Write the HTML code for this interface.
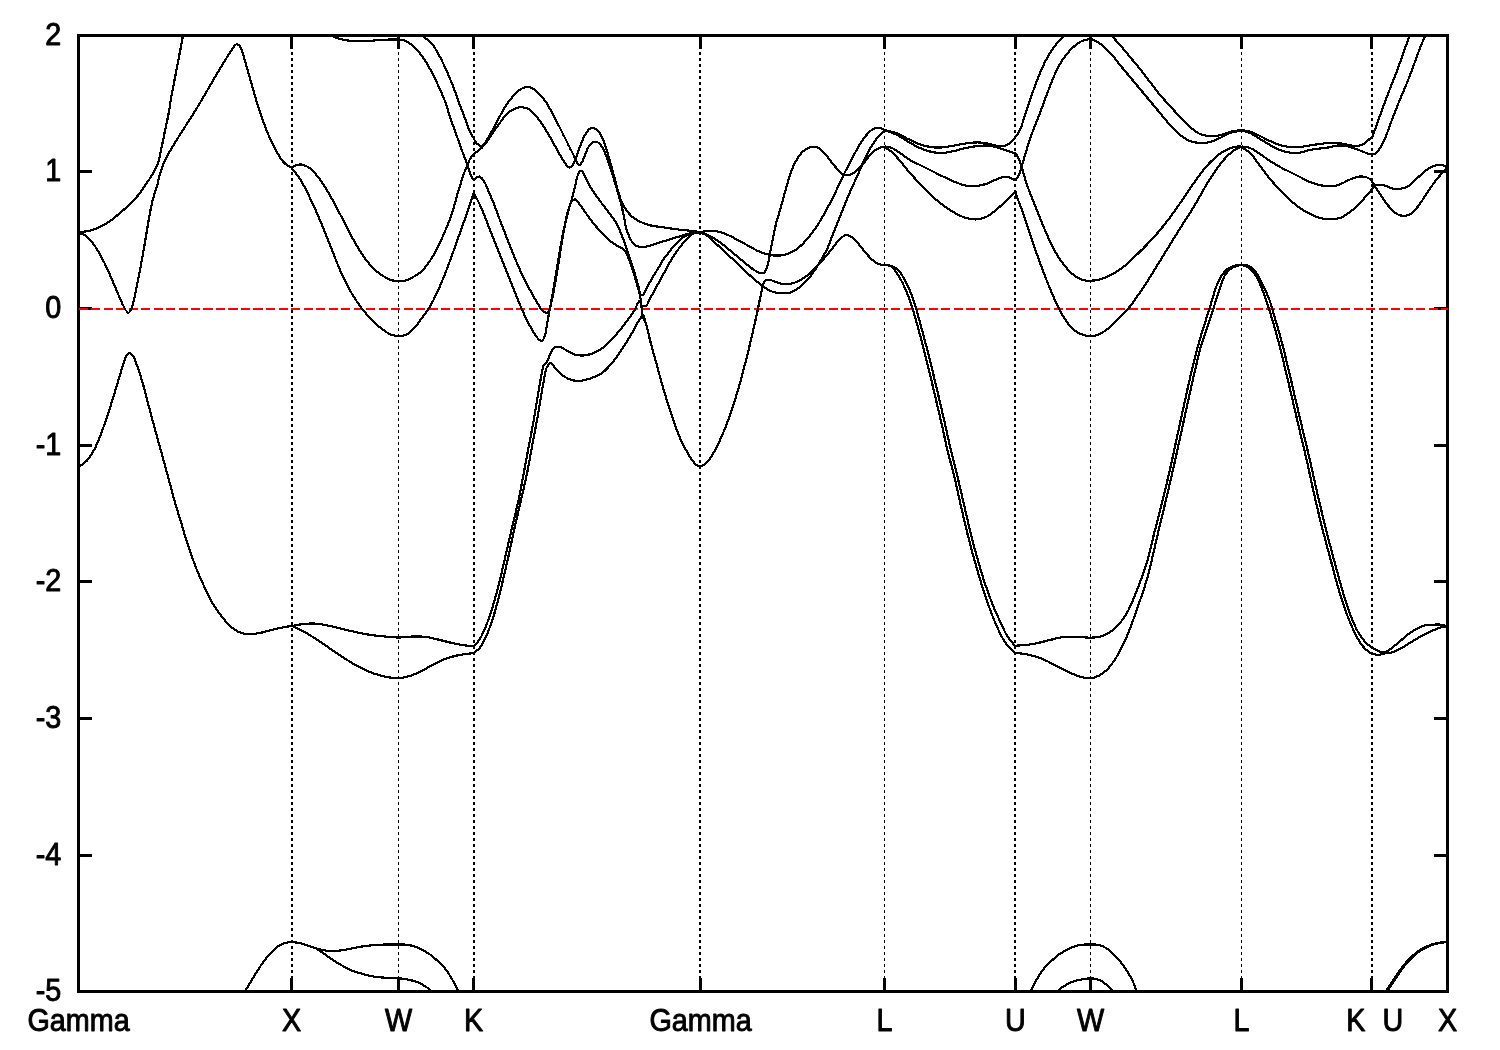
<!DOCTYPE html>
<html><head><meta charset="utf-8"><title>Band structure</title>
<style>html,body{margin:0;padding:0;background:#fff;width:1500px;height:1050px;overflow:hidden}svg{display:block}</style></head>
<body>
<svg width="1500" height="1050" viewBox="0 0 1500 1050">
<rect width="1500" height="1050" fill="#fff"/>
<g stroke="#000" fill="none" shape-rendering="crispEdges">
<line x1="292" y1="52" x2="292" y2="978" stroke-width="2" stroke-dasharray="3 3"/>
<line x1="474" y1="52" x2="474" y2="978" stroke-width="2" stroke-dasharray="3 3"/>
<line x1="700" y1="52" x2="700" y2="978" stroke-width="2" stroke-dasharray="3 3"/>
<line x1="1015" y1="52" x2="1015" y2="978" stroke-width="2" stroke-dasharray="3 3"/>
<line x1="1372" y1="52" x2="1372" y2="978" stroke-width="2" stroke-dasharray="3 3"/>
<line x1="398.5" y1="52" x2="398.5" y2="978" stroke-width="1" stroke-dasharray="3 3"/>
<line x1="884.5" y1="52" x2="884.5" y2="978" stroke-width="1" stroke-dasharray="3 3"/>
<line x1="1090.5" y1="52" x2="1090.5" y2="978" stroke-width="1" stroke-dasharray="3 3"/>
<line x1="1241.5" y1="52" x2="1241.5" y2="978" stroke-width="1" stroke-dasharray="3 3"/>
</g>
<g fill="#000" shape-rendering="crispEdges">
<rect x="80" y="170" width="12" height="3"/>
<rect x="1434" y="170" width="12" height="3"/>
<rect x="80" y="307" width="12" height="3"/>
<rect x="1434" y="307" width="12" height="3"/>
<rect x="80" y="444" width="12" height="3"/>
<rect x="1434" y="444" width="12" height="3"/>
<rect x="80" y="580" width="12" height="3"/>
<rect x="1434" y="580" width="12" height="3"/>
<rect x="80" y="717" width="12" height="3"/>
<rect x="1434" y="717" width="12" height="3"/>
<rect x="80" y="854" width="12" height="3"/>
<rect x="1434" y="854" width="12" height="3"/>
<rect x="290" y="37" width="3" height="12"/>
<rect x="290" y="978" width="3" height="12"/>
<rect x="397" y="37" width="3" height="12"/>
<rect x="397" y="978" width="3" height="12"/>
<rect x="472" y="37" width="3" height="12"/>
<rect x="472" y="978" width="3" height="12"/>
<rect x="699" y="37" width="3" height="12"/>
<rect x="699" y="978" width="3" height="12"/>
<rect x="883" y="37" width="3" height="12"/>
<rect x="883" y="978" width="3" height="12"/>
<rect x="1014" y="37" width="3" height="12"/>
<rect x="1014" y="978" width="3" height="12"/>
<rect x="1089" y="37" width="3" height="12"/>
<rect x="1089" y="978" width="3" height="12"/>
<rect x="1240" y="37" width="3" height="12"/>
<rect x="1240" y="978" width="3" height="12"/>
<rect x="1370" y="37" width="3" height="12"/>
<rect x="1370" y="978" width="3" height="12"/>
<rect x="77" y="34" width="1372" height="3"/><rect x="77" y="990" width="1372" height="3"/><rect x="77" y="34" width="3" height="959"/><rect x="1446" y="34" width="3" height="959"/>
</g>
<line x1="78.5" y1="309" x2="1447.5" y2="309" stroke="#f00" stroke-width="2" stroke-dasharray="9.4 3.1" shape-rendering="crispEdges"/>
<clipPath id="cp"><rect x="77" y="34" width="1372" height="959"/></clipPath>
<g clip-path="url(#cp)" stroke="#000" stroke-width="2.2" fill="none" stroke-linejoin="round" shape-rendering="crispEdges">
<path d="M78.5 232.4C82.3 231.8 86.3 231.6 90.0 230.6C93.4 229.7 96.8 228.5 100.0 227.0C103.5 225.4 106.8 223.2 110.0 221.0C113.5 218.6 116.7 215.8 120.0 213.0C123.4 210.1 126.8 207.2 130.0 204.0C133.5 200.5 137.0 196.9 140.0 193.0C141.8 190.6 143.4 188.0 145.1 185.5C146.3 183.7 147.6 181.9 148.8 180.1C150.1 178.2 151.3 176.3 152.5 174.3C153.6 172.4 154.7 170.4 155.7 168.4C156.5 166.7 157.3 164.9 157.9 163.1C158.5 161.3 159.0 159.5 159.5 157.7C160.0 155.6 160.4 153.4 160.8 151.3C161.2 149.2 161.7 147.0 162.1 144.9C162.6 142.8 163.1 140.6 163.5 138.5C164.1 135.7 164.5 132.8 165.1 130.0C165.8 126.7 166.6 123.3 167.3 120.0C168.0 116.7 168.7 113.4 169.3 110.0C169.9 106.7 170.2 103.3 170.7 100.0C171.4 96.0 172.2 92.0 173.0 88.0C173.8 83.7 174.7 79.3 175.5 75.0C176.3 70.7 177.2 66.3 178.0 62.0C178.8 57.7 179.7 53.3 180.5 49.0C181.3 44.5 182.2 40.0 183.0 35.5"/>
<path d="M78.5 232.6C81.0 233.7 83.8 234.5 86.0 236.0C88.3 237.6 90.2 239.8 92.0 242.0C94.3 244.7 96.1 247.9 98.0 251.0C100.2 254.6 102.1 258.3 104.0 262.0C106.2 266.3 108.1 270.6 110.0 275.0C112.1 279.6 114.0 284.3 116.0 289.0C118.0 293.7 119.8 298.4 122.0 303.0C123.3 305.7 124.7 308.3 126.0 311.0M126.0 311.0C126.7 311.6 127.2 312.7 128.0 312.8C128.6 312.9 129.3 312.3 130.0 312.0M130.0 312.0C130.7 310.3 131.4 308.7 132.0 307.0C134.0 301.5 134.8 295.7 136.0 290.0C137.5 283.4 138.7 276.7 140.0 270.0C141.4 262.7 142.7 255.3 144.0 248.0C145.4 240.0 146.6 232.0 148.0 224.0C149.3 217.0 150.3 209.9 152.0 203.0C152.9 199.3 153.8 195.6 155.0 192.0C155.7 189.8 156.7 187.7 157.3 185.5C158.0 183.0 158.3 180.5 158.9 178.0C159.5 175.5 160.3 173.0 161.1 170.5C161.9 168.0 162.7 165.5 163.7 163.1C164.6 160.9 165.8 158.8 166.9 156.7C168.1 154.3 169.4 152.0 170.7 149.7C172.0 147.4 173.5 145.1 174.9 142.8C176.3 140.5 177.8 138.2 179.2 135.9C180.4 133.9 181.7 132.0 182.9 130.0C185.2 126.4 187.7 122.8 190.0 119.2C194.0 112.9 197.9 106.4 201.7 100.0C205.6 93.4 209.4 86.6 213.3 80.0C216.6 74.4 219.9 68.8 223.3 63.3C225.5 59.7 227.7 56.0 230.0 52.5C231.4 50.4 232.4 48.0 234.2 46.3C235.0 45.5 235.8 44.3 236.7 44.2C237.5 44.1 238.5 44.8 239.2 45.3C240.6 46.3 241.0 48.4 241.7 50.0C243.3 53.4 243.9 57.2 245.0 60.8C246.7 66.6 248.3 72.5 250.0 78.3C252.2 86.1 254.3 94.0 256.7 101.7C258.8 108.4 260.9 115.1 263.3 121.7C265.4 127.3 267.5 132.9 270.0 138.3C272.1 142.8 274.3 147.3 276.7 151.7C278.3 154.5 279.7 157.5 281.7 160.0C283.2 161.8 284.8 163.6 286.7 165.0C288.2 166.1 290.0 166.7 291.6 167.6"/>
<path d="M78.5 466.4C79.7 465.9 80.9 465.4 82.0 464.8C83.8 463.7 85.3 462.2 86.8 460.7C89.9 457.5 92.1 453.4 94.3 449.5C96.9 444.8 98.8 439.6 100.8 434.5C103.2 428.4 105.2 422.1 107.3 415.9C109.6 409.1 111.8 402.2 113.9 395.3C115.8 389.1 117.6 382.9 119.5 376.7C121.0 371.7 122.2 366.6 124.1 361.7C125.0 359.5 125.4 357.0 126.9 355.2C127.7 354.3 128.8 352.8 129.7 352.8C130.6 352.8 131.7 354.3 132.5 355.2C134.5 357.4 135.1 360.8 136.3 363.6C138.5 369.1 140.2 374.8 141.9 380.4C144.4 388.4 146.2 396.6 148.4 404.7C150.9 414.0 153.4 423.4 155.9 432.7C158.4 442.0 161.1 451.2 163.6 460.5C165.5 467.4 167.3 474.2 169.2 481.1C171.1 487.9 172.8 494.8 174.8 501.6C176.6 507.9 178.5 514.1 180.4 520.3C182.3 526.5 184.0 532.7 186.0 538.9C187.8 544.5 189.6 550.1 191.6 555.7C193.4 560.7 195.2 565.8 197.2 570.7C199.5 576.4 202.1 582.0 204.7 587.5C207.1 592.5 209.3 597.6 212.1 602.4C214.4 606.3 216.9 610.0 219.6 613.6C222.0 616.8 224.3 620.0 227.1 622.9C229.4 625.3 231.8 627.7 234.5 629.5C236.8 631.0 239.4 632.4 242.0 633.2C244.4 633.9 247.0 634.0 249.5 634.1C253.2 634.2 257.0 633.5 260.7 632.8C265.0 632.0 269.1 630.5 273.3 629.5C277.7 628.5 282.2 627.4 286.7 626.7C288.5 626.4 290.2 626.2 292.0 626.0"/>
<path d="M245.6 990.2C247.9 986.4 250.2 982.7 252.5 978.9C255.4 974.2 258.1 969.5 261.2 965.0C263.9 961.1 266.7 957.2 269.9 953.8C272.5 951.0 275.2 948.0 278.5 946.0C280.7 944.7 283.1 943.6 285.5 942.9C287.4 942.4 289.5 942.3 291.5 942.0"/>
<path d="M291.6 167.6C293.1 166.8 294.4 165.7 296.0 165.2C297.9 164.6 300.1 164.3 302.0 164.6C304.1 164.9 306.2 166.0 308.0 167.0C311.1 168.8 313.6 171.8 316.0 174.5C319.0 177.9 321.5 181.7 324.0 185.5C326.9 189.9 329.4 194.4 332.0 199.0C334.8 203.9 337.4 209.0 340.0 214.0C343.4 220.5 346.5 227.1 350.0 233.5C353.2 239.4 356.4 245.3 360.0 251.0C361.9 254.0 363.8 257.2 366.0 260.0C368.2 262.8 370.7 265.5 373.3 268.0C375.4 270.1 377.6 272.2 380.0 274.0C382.1 275.5 384.4 276.8 386.7 278.0C388.4 278.9 390.2 279.8 392.0 280.3C394.1 280.9 396.4 280.9 398.6 281.0C400.6 281.1 402.7 281.1 404.7 280.7C407.5 280.1 410.2 278.7 412.7 277.3C415.5 275.8 418.3 274.1 420.7 272.0C423.8 269.4 426.3 266.0 428.7 262.7C431.8 258.5 434.3 253.9 436.7 249.3C439.7 243.7 442.2 237.8 444.7 232.0C447.7 224.9 450.6 217.8 452.9 210.5C454.5 205.4 455.7 200.1 457.2 195.0C458.6 190.3 460.0 185.6 461.5 181.0C462.8 177.1 463.9 173.2 465.5 169.5C466.1 168.0 466.8 166.5 467.5 165.0C468.4 163.0 469.0 160.9 470.0 159.0C471.1 157.0 472.7 155.3 474.0 153.5M474.0 153.5C475.3 152.7 476.7 151.9 478.0 151.0C479.4 150.0 480.7 148.7 482.0 147.5C483.4 146.1 484.8 144.6 486.0 143.0C487.5 141.1 488.7 139.0 490.0 137.0C491.3 135.0 492.6 133.0 494.0 131.0C495.3 129.1 496.7 127.3 498.0 125.5C499.3 123.7 500.6 121.8 502.0 120.0C503.3 118.3 504.5 116.5 506.0 115.0C507.2 113.7 508.6 112.5 510.0 111.5C511.3 110.6 512.6 109.7 514.0 109.0C515.3 108.4 516.6 107.8 518.0 107.5C519.3 107.2 520.7 107.2 522.0 107.3C523.3 107.4 524.7 107.6 526.0 108.0C527.4 108.5 528.8 109.2 530.0 110.0C531.9 111.3 533.4 113.3 535.0 115.0C536.8 116.9 538.4 118.9 540.0 121.0C541.8 123.4 543.4 126.0 545.0 128.5C546.7 131.3 548.4 134.1 550.0 137.0C551.7 140.0 553.3 143.0 555.0 146.0C556.7 149.0 558.3 152.0 560.0 155.0C561.6 157.7 563.2 160.4 565.0 163.0C566.2 164.7 567.5 166.3 568.7 168.0M568.7 168.0C569.8 167.3 571.1 166.8 572.0 166.0C573.6 164.5 574.1 162.0 575.0 160.0C576.2 157.4 577.0 154.7 578.0 152.0C579.3 148.4 580.5 144.8 582.0 141.3C583.2 138.6 584.3 135.7 586.0 133.3C587.2 131.7 588.2 129.5 590.0 128.7C591.0 128.2 592.2 127.9 593.3 128.0C595.0 128.1 596.7 129.5 598.0 130.7C599.9 132.4 600.8 135.0 602.0 137.3C603.7 140.7 604.8 144.4 606.0 148.0C607.5 152.4 608.7 156.9 610.0 161.3C611.4 166.2 612.7 171.1 614.0 176.0C615.3 180.9 616.5 185.8 618.0 190.7C619.2 194.7 620.1 198.9 622.0 202.7C623.1 205.0 624.5 207.2 626.0 209.3C627.6 211.6 629.2 214.1 631.3 216.0C633.6 218.2 636.5 219.8 639.3 221.3C642.7 223.1 646.3 224.3 650.0 225.3C654.3 226.5 658.9 226.6 663.3 227.3C667.8 228.0 672.2 228.7 676.7 229.3C681.1 229.9 685.6 230.2 690.0 230.7C693.3 231.1 696.7 231.6 700.0 232.0"/>
<path d="M291.6 168.4C293.7 170.9 296.1 173.3 298.0 176.0C300.3 179.1 302.1 182.6 304.0 186.0C306.2 189.9 308.1 194.0 310.0 198.0C312.1 202.3 314.1 206.6 316.0 211.0C318.8 217.3 321.4 223.6 324.0 230.0C326.7 236.6 329.3 243.3 332.0 250.0C334.7 256.7 337.1 263.4 340.0 270.0C342.5 275.7 345.1 281.3 348.0 286.8C350.7 291.8 353.6 296.6 356.7 301.3C358.4 303.8 360.1 306.3 362.0 308.7C364.5 311.9 367.2 315.0 370.0 317.9C373.4 321.4 376.8 325.0 380.7 328.0C384.0 330.5 387.4 333.3 391.3 334.7C393.6 335.5 396.2 336.2 398.7 336.2C401.1 336.2 403.8 335.6 406.0 334.7C409.7 333.2 412.5 329.7 415.3 326.7C418.3 323.5 420.6 319.6 423.3 316.0C425.1 313.6 427.0 311.2 428.7 308.7C431.9 303.9 434.2 298.5 436.7 293.3C439.6 287.2 442.2 281.0 444.7 274.7C447.5 267.6 450.1 260.5 452.7 253.3C455.4 245.8 458.0 238.2 460.7 230.7C463.4 223.1 466.2 215.6 468.7 208.0C469.6 205.3 470.4 202.7 471.3 200.0C472.1 197.7 473.0 195.3 473.8 193.0M473.8 193.0C474.9 195.0 476.0 197.0 477.0 199.0C478.0 201.0 479.0 203.0 480.0 205.0C481.8 208.9 483.4 213.0 485.0 217.0C486.7 221.3 488.3 225.7 490.0 230.0C491.6 234.2 493.3 238.3 495.0 242.5C496.7 246.7 498.3 250.8 500.0 255.0C502.0 260.0 504.0 265.0 506.0 270.0C508.0 275.0 510.0 280.0 512.0 285.0C514.0 290.0 515.9 295.0 518.0 300.0C519.9 304.7 521.9 309.4 524.0 314.0C525.9 318.1 527.8 322.1 530.0 326.0C531.9 329.4 533.6 333.0 536.0 336.0C537.2 337.5 538.2 339.6 540.0 340.4C540.6 340.7 541.4 341.0 542.0 341.0C543.3 340.9 543.7 338.4 544.4 337.0C546.3 333.1 546.2 328.3 547.0 324.0C548.0 318.7 549.0 313.3 550.0 308.0C551.0 302.7 552.0 297.3 553.0 292.0C554.4 284.0 555.7 276.0 557.0 268.0C558.3 260.0 559.5 252.0 561.0 244.0C562.2 237.3 563.5 230.6 565.0 224.0C566.2 218.6 567.1 213.1 569.0 208.0C569.9 205.6 570.2 202.6 572.0 201.0C572.8 200.3 573.9 199.4 574.7 199.3C576.4 199.0 577.9 202.4 579.3 204.0C581.8 206.9 583.7 210.2 586.0 213.3C588.6 216.9 591.2 220.5 594.0 224.0C596.6 227.2 599.2 230.3 602.0 233.3C603.5 234.9 605.1 236.5 606.7 238.0C608.8 239.9 611.0 241.7 613.3 243.3C615.4 244.8 617.8 246.0 620.0 247.3C621.1 248.0 622.3 248.5 623.3 249.3C624.4 250.2 625.2 251.5 626.0 252.7C627.2 254.5 627.9 256.7 628.7 258.7C629.7 261.1 630.5 263.6 631.3 266.0C632.2 268.7 633.2 271.3 634.0 274.0C635.0 277.1 635.8 280.2 636.7 283.3C637.6 286.4 638.5 289.5 639.3 292.7C639.8 294.9 640.3 297.1 640.7 299.3C641.1 301.7 641.2 304.2 641.5 306.7C641.9 309.8 641.9 313.0 642.7 316.0C643.4 318.8 645.0 321.3 646.0 324.0C647.8 329.2 648.6 334.7 650.0 340.0C651.9 347.4 654.0 354.7 656.0 362.0C658.0 369.3 659.9 376.7 662.0 384.0C663.9 390.7 665.9 397.4 668.0 404.0C669.9 410.0 671.9 416.0 674.0 422.0C675.9 427.4 677.7 432.8 680.0 438.0C681.8 442.1 683.8 446.1 686.0 450.0C687.9 453.4 689.6 457.0 692.0 460.0C693.5 461.9 694.9 464.3 697.0 465.4C697.9 465.9 699.0 466.1 700.0 466.4"/>
<path d="M331.0 35.5C333.0 36.4 334.9 37.5 337.0 38.2C338.9 38.9 341.0 39.3 343.0 39.7C346.0 40.3 349.0 40.7 352.0 41.0C355.3 41.3 358.7 41.3 362.0 41.3C365.0 41.3 368.0 41.3 371.0 41.0C373.0 40.8 375.0 40.2 377.0 40.0C380.0 39.7 383.0 39.8 386.0 39.7C390.2 39.6 394.4 39.1 398.6 39.6C401.1 39.9 403.7 40.1 406.0 41.0C409.0 42.2 411.5 44.8 414.0 47.0C417.0 49.7 419.6 52.8 422.0 56.0C425.1 60.0 427.5 64.6 430.0 69.0C432.9 74.2 435.5 79.6 438.0 85.0C440.9 91.2 443.7 97.5 446.0 104.0C447.5 108.3 448.6 112.7 450.0 117.0C451.6 121.7 453.3 126.3 455.0 131.0C456.7 135.7 458.3 140.3 460.0 145.0C461.3 148.7 462.6 152.3 464.0 156.0C465.0 158.7 466.1 161.3 467.0 164.0C467.7 166.0 468.3 168.0 469.0 170.0C469.7 172.0 470.1 174.1 471.0 176.0C471.7 177.4 472.7 178.7 473.5 180.0M473.5 180.0C474.3 179.3 475.1 178.6 476.0 178.0C477.1 177.3 478.4 176.3 479.5 176.5C480.4 176.7 481.3 177.8 482.0 178.5C483.3 179.8 484.1 181.4 485.0 183.0C486.2 185.2 487.0 187.7 488.0 190.0C489.0 192.3 490.0 194.7 491.0 197.0C492.0 199.3 493.1 201.6 494.0 204.0C495.5 207.6 496.6 211.3 498.0 215.0C499.6 219.3 501.3 223.7 503.0 228.0C505.3 234.0 507.6 240.0 510.0 246.0C513.2 254.0 516.4 262.1 520.0 270.0C523.1 276.8 526.5 283.4 530.0 290.0C532.6 294.7 535.0 299.5 538.0 304.0C539.6 306.4 540.7 309.5 543.0 311.0C544.2 311.8 545.9 313.0 547.0 312.7C548.0 312.4 548.9 311.0 549.5 310.0C550.6 308.3 550.5 306.0 551.0 304.0C552.6 297.4 553.8 290.7 555.0 284.0C556.5 276.0 557.7 268.0 559.0 260.0C560.2 252.7 561.2 245.3 562.5 238.0C563.6 232.0 564.6 225.9 566.0 220.0C567.2 215.1 568.6 210.2 570.0 205.3C570.9 202.2 571.9 199.1 572.7 196.0C573.7 192.5 574.4 188.9 575.3 185.3C576.2 181.8 576.4 177.9 578.0 174.7C578.6 173.5 578.9 171.9 580.0 171.3C580.6 171.0 581.4 170.6 582.0 170.7C583.2 170.8 583.3 173.4 584.0 174.7C585.1 176.9 586.1 179.1 587.3 181.3C589.0 184.5 590.8 187.7 592.7 190.7C594.7 193.9 597.1 196.9 599.3 200.0C601.9 203.6 604.6 207.1 607.3 210.7C610.0 214.2 613.0 217.5 615.3 221.3C616.8 223.8 618.1 226.4 619.3 229.0C620.3 231.3 621.1 233.7 622.0 236.0C622.9 238.2 623.9 240.4 624.7 242.7C625.4 244.7 626.0 246.7 626.7 248.7C627.4 250.7 628.0 252.7 628.7 254.7C629.4 256.7 630.0 258.7 630.7 260.7C631.6 263.4 632.5 266.0 633.3 268.7C634.3 271.8 635.1 274.9 636.0 278.0C636.9 281.1 637.9 284.2 638.7 287.3C639.2 289.3 639.3 291.4 640.0 293.3C640.3 294.2 640.8 295.0 641.2 295.8M641.2 295.8C641.7 295.5 642.2 295.3 642.7 295.0C644.9 293.5 645.4 290.3 646.7 288.0C647.8 286.0 648.9 284.0 650.0 282.0C651.1 280.0 652.1 278.0 653.3 276.0C654.4 274.2 655.6 272.5 656.7 270.7C657.8 268.9 658.9 267.1 660.0 265.3C661.1 263.3 662.0 261.2 663.3 259.3C664.3 257.9 665.6 256.7 666.7 255.3C667.9 253.8 668.8 252.2 670.0 250.7C671.1 249.3 672.2 248.0 673.3 246.7C674.4 245.4 675.5 244.2 676.7 243.0C677.8 241.9 678.8 240.7 680.0 239.7C681.0 238.8 682.2 238.0 683.3 237.3C684.4 236.6 685.5 235.9 686.7 235.3C687.8 234.7 688.9 234.2 690.0 233.7C691.1 233.3 692.2 232.9 693.3 232.6C695.5 232.1 697.8 232.5 700.0 232.4"/>
<path d="M423.0 36.0C426.0 38.7 429.4 41.0 432.0 44.0C435.3 47.8 437.6 52.5 440.0 57.0C443.0 62.5 445.5 68.3 448.0 74.0C450.9 80.6 453.6 87.2 456.0 94.0C456.7 96.0 457.3 98.0 458.0 100.0C459.5 104.4 461.4 108.7 463.0 113.0C464.4 116.7 465.6 120.3 467.0 124.0C468.0 126.7 468.7 129.5 470.0 132.0C471.0 133.9 472.3 135.7 473.5 137.5M473.5 137.5C474.0 138.7 474.4 139.9 475.0 141.0C475.8 142.3 476.8 143.6 478.0 144.5C478.9 145.1 480.0 146.0 481.0 146.0C482.0 146.0 483.1 144.8 484.0 144.0C485.8 142.4 486.7 140.0 488.0 138.0C489.4 135.7 490.7 133.4 492.0 131.0C493.4 128.5 494.7 126.0 496.0 123.5C497.3 121.0 498.6 118.5 500.0 116.0C501.6 113.0 503.2 109.9 505.0 107.0C506.5 104.6 508.2 102.3 510.0 100.0C511.9 97.6 513.7 95.1 516.0 93.0C517.8 91.3 519.8 89.5 522.0 88.5C523.8 87.7 526.0 86.9 528.0 87.0C530.0 87.1 532.2 88.0 534.0 89.0C536.4 90.4 538.1 92.9 540.0 95.0C541.5 96.6 543.1 98.2 544.5 100.0C546.7 102.8 548.3 105.9 550.0 109.0C551.8 112.1 553.3 115.3 555.0 118.5C556.7 121.7 558.4 124.8 560.0 128.0C561.7 131.3 563.3 134.7 565.0 138.0C566.7 141.3 568.3 144.7 570.0 148.0C571.3 150.7 572.7 153.3 574.0 156.0C575.0 158.2 575.8 160.5 577.0 162.5C577.6 163.5 578.3 164.5 579.0 165.5M579.0 165.5C579.8 164.8 580.6 164.1 581.3 163.3C583.0 161.3 583.6 158.4 584.7 156.0C586.1 152.9 586.8 149.4 588.7 146.7C589.8 145.1 591.0 143.2 592.7 142.4C593.5 142.0 594.4 141.6 595.3 141.6C596.7 141.6 598.2 142.5 599.3 143.3C601.2 144.6 602.1 147.2 603.3 149.3C605.0 152.3 606.1 155.5 607.3 158.7C608.8 162.6 610.0 166.7 611.3 170.7C612.7 175.1 614.0 179.6 615.3 184.0C616.6 188.4 618.1 192.8 619.3 197.3C620.8 202.6 622.1 207.9 623.3 213.3C624.6 218.8 624.9 224.6 626.7 230.0C627.3 231.8 628.0 233.6 628.7 235.3C629.5 237.1 630.2 239.0 631.3 240.7C632.3 242.2 633.3 244.0 634.7 245.0C635.8 245.8 637.3 246.4 638.7 246.7C640.2 247.1 641.8 247.1 643.3 247.0C644.9 246.9 646.5 246.6 648.0 246.3C649.8 245.9 651.5 245.3 653.3 244.7C655.6 244.0 657.7 243.0 660.0 242.3C662.2 241.6 664.5 241.0 666.7 240.3C668.9 239.6 671.1 239.0 673.3 238.3C675.5 237.6 677.8 237.0 680.0 236.3C682.2 235.6 684.5 234.9 686.7 234.3C688.9 233.7 691.1 232.9 693.3 232.6C695.5 232.3 697.8 232.5 700.0 232.4"/>
<path d="M292.3 626.0C296.0 625.3 299.6 624.4 303.3 624.0C307.7 623.5 312.3 623.4 316.7 623.7C321.2 624.0 325.6 625.1 330.0 626.0C335.6 627.1 341.1 628.7 346.7 630.0C353.3 631.5 360.0 633.2 366.7 634.3C373.3 635.4 380.0 636.1 386.7 636.7C390.7 637.0 394.6 637.5 398.6 637.5C403.5 637.5 408.4 636.6 413.3 636.5C417.8 636.4 422.3 636.4 426.7 637.0C431.2 637.6 435.6 639.0 440.0 640.0C444.4 641.1 448.8 642.3 453.3 643.3C456.8 644.1 460.4 644.8 464.0 645.3C467.3 645.7 470.7 645.8 474.0 646.0M474.0 646.0C475.7 644.0 477.7 642.1 479.2 640.0C481.6 636.6 483.1 632.6 484.8 628.8C486.9 624.0 488.7 618.9 490.4 613.9C492.5 607.7 494.3 601.5 496.0 595.2C498.1 587.8 499.8 580.3 501.6 572.8C503.5 564.7 505.3 556.6 507.2 548.5C509.1 540.4 510.9 532.4 512.8 524.3C514.5 517.2 516.3 510.1 517.9 503.0C520.0 493.5 521.7 483.9 523.5 474.4C525.4 464.4 527.2 454.5 529.1 444.5C531.0 434.6 533.0 424.7 534.7 414.7C536.3 405.4 537.7 396.0 539.3 386.7C540.5 379.8 541.8 373.0 543.1 366.1M543.1 366.1C544.6 364.2 546.4 362.5 547.7 360.5C549.5 357.7 549.6 353.9 551.5 351.2C552.5 349.7 553.6 347.8 555.2 347.1C556.3 346.6 557.7 346.6 558.9 346.7C561.6 346.9 563.9 349.1 566.4 350.3C569.5 351.8 572.4 354.1 575.7 354.9C578.7 355.6 582.0 355.6 585.1 355.3C588.3 354.9 591.5 353.9 594.4 352.7C597.8 351.3 601.1 349.2 604.0 347.0C607.7 344.2 610.8 340.5 614.0 337.0C617.5 333.2 620.8 329.1 624.0 325.0C627.5 320.5 630.8 315.8 634.0 311.0C636.1 307.8 638.9 299.0 640.2 301.3C640.5 301.9 640.7 303.1 641.0 304.0C641.3 305.0 641.5 306.0 641.8 307.0"/>
<path d="M292.3 626.0C297.1 628.4 302.0 630.6 306.7 633.3C312.4 636.5 317.8 640.4 323.3 644.0C328.9 647.7 334.4 651.6 340.0 655.3C345.5 658.9 350.9 662.6 356.7 665.7C362.1 668.6 367.6 671.3 373.3 673.3C377.7 674.8 382.2 676.2 386.7 677.0C390.6 677.7 394.7 678.4 398.6 678.2C402.4 678.0 406.3 677.1 410.0 676.0C414.6 674.6 418.9 672.2 423.3 670.0C427.9 667.7 432.1 664.9 436.7 662.7C441.0 660.7 445.4 658.7 450.0 657.3C454.3 656.0 458.8 655.0 463.3 654.3C466.8 653.7 470.4 653.5 474.0 653.1M474.0 653.1C476.0 651.2 478.4 649.6 480.1 647.5C482.6 644.5 484.0 640.7 485.7 637.2C487.9 632.7 489.6 627.9 491.3 623.2C493.5 617.1 495.2 610.8 496.9 604.5C499.0 597.1 500.7 589.6 502.5 582.1C504.4 574.1 506.3 566.0 508.1 557.9C510.0 549.2 511.8 540.4 513.7 531.7C515.6 523.1 517.6 514.6 519.6 506.0C522.0 495.5 524.6 485.0 526.8 474.4C528.9 464.5 530.5 454.5 532.4 444.5C534.3 434.6 536.2 424.7 538.0 414.7C539.7 405.4 541.0 396.0 542.7 386.7C543.8 380.5 545.0 374.2 546.2 368.0M546.2 368.0C547.6 366.3 549.0 362.9 550.5 362.8C552.0 362.7 553.6 366.3 555.2 368.0C557.6 370.6 559.9 373.5 562.7 375.5C565.5 377.5 568.7 379.3 572.0 380.1C575.0 380.9 578.2 381.0 581.3 380.7C584.5 380.4 587.7 379.4 590.7 378.3C594.6 376.9 598.6 375.3 602.0 373.0C605.8 370.4 608.9 366.6 612.0 363.0C615.7 358.7 618.8 353.8 622.0 349.0C625.5 343.8 628.8 338.4 632.0 333.0C634.8 328.4 636.8 323.3 640.0 319.0C640.9 317.8 641.9 315.8 642.7 315.5C644.3 314.8 645.0 321.1 646.0 324.0C647.8 329.2 648.6 334.7 650.0 340.0C651.9 347.4 654.0 354.7 656.0 362.0C658.0 369.3 659.9 376.7 662.0 384.0C663.9 390.7 665.9 397.4 668.0 404.0C669.9 410.0 671.9 416.0 674.0 422.0C675.9 427.4 677.7 432.8 680.0 438.0C681.8 442.1 683.8 446.1 686.0 450.0C687.9 453.4 689.6 457.0 692.0 460.0C693.5 461.9 694.9 464.3 697.0 465.4C697.9 465.9 699.0 466.1 700.0 466.4"/>
<path d="M641.8 306.3C643.2 306.2 644.9 306.5 646.0 306.0C647.8 305.1 648.2 302.0 649.3 300.0C650.6 297.6 652.0 295.1 653.3 292.7C654.6 290.2 656.0 287.8 657.3 285.3C658.6 282.9 660.0 280.4 661.3 278.0C662.6 275.6 664.0 273.1 665.3 270.7C666.6 268.2 667.9 265.7 669.3 263.3C670.6 261.1 671.9 258.9 673.3 256.7C674.6 254.7 675.9 252.7 677.3 250.7C678.6 248.9 679.9 247.0 681.3 245.3C682.6 243.7 683.9 242.2 685.3 240.7C686.6 239.3 687.9 237.9 689.3 236.7C690.6 235.6 691.8 234.3 693.3 233.6C695.3 232.7 697.8 232.9 700.0 232.6"/>
<path d="M291.5 942.0C294.1 942.3 296.7 942.4 299.3 942.9C302.3 943.5 305.1 944.7 308.0 945.6C310.9 946.6 313.8 947.8 316.7 948.6C319.5 949.4 322.4 950.1 325.3 950.5C329.3 951.1 333.5 951.0 337.5 950.8C342.1 950.5 346.7 949.4 351.3 948.6C355.9 947.8 360.5 946.6 365.2 946.0C369.8 945.4 374.4 945.0 379.0 944.8C382.3 944.6 385.7 944.5 389.0 944.5C392.2 944.5 395.3 944.4 398.5 944.5C401.8 944.6 405.1 944.4 408.3 944.9C411.3 945.4 414.2 946.2 417.0 947.3C419.4 948.2 421.6 949.5 423.9 950.8C426.3 952.1 428.7 953.5 430.9 955.1C433.4 956.9 435.6 959.1 437.8 961.2C440.2 963.4 442.6 965.6 444.7 968.1C447.4 971.3 449.6 974.9 451.7 978.5C453.9 982.3 455.7 986.3 457.7 990.2"/>
<path d="M291.5 942.0C294.1 942.3 296.7 942.4 299.3 943.0C302.3 943.6 305.1 944.8 308.0 945.8C310.9 946.8 314.0 947.5 316.7 948.8C319.8 950.3 322.4 952.7 325.3 954.7C328.2 956.7 331.0 958.8 334.0 960.7C336.8 962.5 339.7 964.3 342.7 965.9C345.5 967.5 348.3 969.1 351.3 970.3C354.6 971.7 358.2 972.7 361.7 973.7C365.1 974.7 368.6 975.7 372.1 976.3C375.5 976.9 379.0 977.2 382.5 977.5C385.3 977.8 388.2 977.9 391.0 978.1C393.5 978.2 396.0 978.3 398.5 978.4C400.0 978.5 401.6 978.5 403.1 978.7C405.1 978.9 407.2 979.3 409.2 979.8C411.8 980.4 414.5 981.0 417.0 982.0C419.4 982.9 421.7 984.2 423.9 985.5C426.3 986.9 428.6 988.6 430.9 990.2"/>
<path d="M700.0 232.2C702.9 231.8 705.8 231.0 708.7 230.9C711.4 230.8 714.1 230.9 716.7 231.3C719.4 231.7 722.1 232.6 724.7 233.6C727.4 234.6 730.1 236.0 732.7 237.3C735.4 238.7 738.0 240.2 740.7 241.6C743.4 243.1 746.0 244.5 748.7 246.0C751.4 247.5 754.0 249.1 756.7 250.4C759.3 251.6 762.0 252.8 764.7 253.6C766.4 254.1 768.2 254.6 770.0 254.9C772.2 255.3 774.5 255.6 776.7 255.6C778.9 255.6 781.2 255.5 783.3 255.1C785.6 254.7 787.8 253.8 790.0 252.9C792.3 251.9 794.6 250.7 796.7 249.3C799.1 247.6 801.2 245.4 803.3 243.3C806.0 240.6 808.4 237.7 810.7 234.7C813.6 231.1 816.2 227.2 818.7 223.3C821.6 218.8 824.1 214.0 826.7 209.3C829.0 205.1 831.2 200.9 833.3 196.7C835.2 192.9 836.9 189.1 838.7 185.3C840.0 182.4 841.3 179.5 842.7 176.7C844.0 174.0 845.3 171.4 846.7 168.7C848.4 165.3 850.2 162.0 852.0 158.7C853.8 155.4 855.4 152.0 857.3 148.7C859.0 145.7 860.7 142.8 862.7 140.0C864.3 137.7 866.0 135.3 868.0 133.3C869.4 131.8 870.9 130.3 872.7 129.3C874.1 128.5 875.7 127.8 877.3 127.7C878.6 127.6 880.0 127.9 881.3 128.3C882.5 128.7 883.5 129.4 884.6 130.0"/>
<path d="M700.0 232.6C702.4 233.4 704.9 233.9 707.3 234.9C710.6 236.2 713.7 238.1 716.7 240.0C719.5 241.8 722.1 243.9 724.7 246.0C727.4 248.2 730.0 250.5 732.7 252.7C735.4 254.9 738.0 257.1 740.7 259.3C743.4 261.5 745.9 263.9 748.7 266.0C750.8 267.6 752.9 269.4 755.3 270.7C756.8 271.5 758.3 272.6 760.0 272.9C761.1 273.1 762.4 273.4 763.3 273.1C764.5 272.7 765.3 271.1 766.0 270.0C767.1 268.2 767.4 266.0 768.0 264.0C769.0 260.5 769.3 256.9 770.0 253.3C770.7 249.9 771.3 246.4 772.0 243.0C772.7 239.7 773.3 236.3 774.0 233.0C774.8 229.3 775.5 225.6 776.5 222.0C777.3 219.1 778.2 216.3 779.0 213.5C780.1 209.7 781.2 205.8 782.3 202.0C783.8 196.7 785.2 191.3 786.7 186.0C788.0 181.6 789.1 177.0 790.7 172.7C791.9 169.5 793.1 166.3 794.7 163.3C795.9 161.0 797.2 158.8 798.7 156.7C799.9 154.9 801.1 153.1 802.7 151.6C804.2 150.2 806.1 148.8 808.0 148.0C809.6 147.3 811.5 146.7 813.3 146.7C815.1 146.7 817.1 147.2 818.7 148.0C820.8 149.0 822.4 151.0 824.0 152.7C826.0 154.7 827.5 157.1 829.3 159.3C831.1 161.5 832.8 163.8 834.7 166.0C836.4 168.0 838.0 170.3 840.0 172.0C841.2 173.0 842.5 174.2 844.0 174.7C845.2 175.2 846.7 175.4 848.0 175.3C849.8 175.2 851.7 174.2 853.3 173.3C855.3 172.2 857.0 170.3 858.7 168.7C860.6 166.8 862.3 164.7 864.0 162.7C865.8 160.5 867.4 158.1 869.3 156.0C871.0 154.1 872.7 152.2 874.7 150.7C876.3 149.5 878.1 148.3 880.0 147.6C881.5 147.0 883.1 146.9 884.6 146.5"/>
<path d="M700.0 232.8C702.2 233.6 704.7 234.1 706.7 235.3C709.2 236.8 711.1 239.3 713.3 241.3C715.5 243.3 717.8 245.3 720.0 247.3C722.3 249.4 724.4 251.6 726.7 253.7C728.9 255.7 731.1 257.6 733.3 259.6C735.6 261.7 737.8 263.9 740.0 266.0C742.2 268.1 744.4 270.3 746.7 272.4C748.9 274.5 751.0 276.5 753.3 278.5C755.5 280.4 757.7 282.2 760.0 284.0C761.5 285.2 763.1 286.4 764.7 287.5C766.4 288.7 768.1 289.8 770.0 290.7C772.1 291.7 774.4 292.5 776.7 292.9C778.8 293.3 781.1 293.3 783.3 293.3C785.5 293.3 787.9 293.3 790.0 292.7C792.4 292.0 794.6 290.6 796.7 289.3C799.1 287.8 801.2 285.9 803.3 284.0C805.7 281.8 807.9 279.3 810.0 276.7C812.4 273.7 814.6 270.5 816.7 267.3C819.1 263.6 821.1 259.8 823.3 256.0C824.4 254.0 825.7 252.0 826.7 250.0C828.9 245.8 830.2 241.1 832.0 236.7C833.8 232.2 835.5 227.8 837.3 223.3C839.1 218.9 840.9 214.4 842.7 210.0C844.5 205.6 846.1 201.1 848.0 196.7C849.7 192.7 851.5 188.7 853.3 184.7C855.1 180.7 856.9 176.7 858.7 172.7C860.5 168.7 862.1 164.7 864.0 160.7C865.7 157.1 867.4 153.5 869.3 150.0C871.0 147.0 872.7 144.1 874.7 141.3C876.3 139.0 878.1 136.8 880.0 134.7C881.4 133.2 883.1 131.8 884.6 130.3"/>
<path d="M700.0 466.4C701.0 466.1 702.1 465.9 703.0 465.4C705.0 464.5 706.5 462.6 708.0 461.0C710.4 458.4 712.2 455.1 714.0 452.0C716.3 448.2 718.1 444.1 720.0 440.0C722.1 435.4 724.1 430.7 726.0 426.0C728.2 420.4 730.1 414.7 732.0 409.0C734.1 402.7 736.1 396.4 738.0 390.0C740.2 382.7 742.1 375.4 744.0 368.0C746.1 360.0 748.1 352.0 750.0 344.0C751.4 338.2 752.7 332.5 754.0 326.7C755.1 321.8 756.3 316.9 757.3 312.0C758.2 307.6 759.1 303.1 760.0 298.7C760.9 294.7 761.5 290.6 762.7 286.7C763.1 285.4 763.3 283.9 764.0 282.7C764.5 281.7 765.1 280.5 766.0 280.0C766.7 279.6 767.8 279.6 768.7 279.6C770.5 279.6 772.2 280.7 774.0 281.3C776.2 282.1 778.4 283.2 780.7 283.7C782.4 284.1 784.2 284.3 786.0 284.3C787.8 284.3 789.6 284.0 791.3 283.6C793.6 283.1 795.9 282.3 798.0 281.3C800.4 280.2 802.6 278.8 804.7 277.3C806.5 276.1 808.3 274.7 810.0 273.3C812.4 271.3 814.5 269.0 816.7 266.7C819.0 264.3 821.1 261.8 823.3 259.3C825.6 256.7 827.8 254.0 830.0 251.3C832.3 248.5 834.3 245.4 836.7 242.7C838.4 240.8 840.0 238.8 842.0 237.3C843.1 236.5 844.2 235.3 845.5 235.0C846.9 234.7 848.6 235.4 850.0 236.0C852.0 236.8 853.7 238.5 855.3 240.0C857.4 241.9 858.9 244.5 860.7 246.7C862.9 249.4 865.0 252.2 867.3 254.7C869.4 257.0 871.5 259.5 874.0 261.3C875.6 262.5 877.4 263.6 879.3 264.3C881.0 264.9 882.8 265.0 884.6 265.3"/>
<path d="M884.6 130.0C888.4 131.0 892.3 131.6 896.0 133.0C900.2 134.5 904.0 137.1 908.0 139.0C912.0 140.9 915.9 143.0 920.0 144.4C923.9 145.7 927.9 146.7 932.0 147.2C935.3 147.6 938.7 147.6 942.0 147.4C946.0 147.2 950.0 146.3 954.0 145.6C958.0 144.9 962.0 143.9 966.0 143.4C970.0 142.9 974.0 142.3 978.0 142.4C981.3 142.5 984.7 143.0 988.0 143.6C990.7 144.1 993.3 145.2 996.0 145.6C998.6 146.0 1001.5 146.6 1004.0 146.0C1006.1 145.5 1008.2 144.3 1010.0 143.0C1012.1 141.4 1013.8 139.1 1015.4 137.0C1017.1 134.8 1018.7 132.5 1020.0 130.0C1021.9 126.3 1022.7 122.0 1024.0 118.0C1026.0 112.0 1027.9 106.0 1030.0 100.0C1032.6 92.6 1035.1 85.2 1038.0 78.0C1040.5 71.9 1042.9 65.8 1046.0 60.0C1048.4 55.5 1050.9 51.0 1054.0 47.0C1055.9 44.6 1057.8 42.2 1060.0 40.0C1061.6 38.4 1063.3 37.0 1065.0 35.5"/>
<path d="M884.6 130.4C888.4 131.7 892.4 132.7 896.0 134.4C900.2 136.3 903.9 139.3 908.0 141.6C911.9 143.8 915.8 146.2 920.0 148.0C923.9 149.6 927.9 151.2 932.0 152.0C935.3 152.7 938.7 153.1 942.0 153.0C946.0 152.9 950.0 151.8 954.0 151.0C958.0 150.2 962.0 148.8 966.0 148.0C970.0 147.2 974.0 146.4 978.0 146.0C981.3 145.7 984.7 145.3 988.0 145.6C990.7 145.8 993.4 146.4 996.0 147.0C998.7 147.7 1001.3 148.7 1004.0 149.6C1006.0 150.3 1008.0 150.9 1010.0 151.6C1011.8 152.2 1013.9 152.5 1015.4 153.6C1017.0 154.8 1018.0 157.1 1019.0 159.0C1020.4 161.8 1021.1 165.0 1022.0 168.0C1023.5 172.6 1024.5 177.4 1026.0 182.0C1027.8 187.4 1029.9 192.7 1032.0 198.0C1034.6 204.7 1037.3 211.4 1040.0 218.0C1042.6 224.4 1045.1 230.8 1048.0 237.0C1050.5 242.4 1053.0 247.9 1056.0 253.0C1058.4 257.1 1061.0 261.3 1064.0 265.0C1066.4 268.0 1069.0 271.1 1072.0 273.6C1074.5 275.7 1077.1 277.8 1080.0 279.0C1081.9 279.8 1084.0 280.3 1086.0 280.6C1087.4 280.8 1088.9 280.9 1090.4 281.0"/>
<path d="M884.6 146.4C887.1 146.9 889.7 147.1 892.0 148.0C894.9 149.1 897.4 151.3 900.0 153.0C903.4 155.2 906.5 157.9 910.0 160.0C913.2 161.9 916.7 163.3 920.0 165.0C924.0 167.0 928.0 169.0 932.0 171.0C936.0 173.0 940.0 175.1 944.0 177.0C948.0 178.9 951.9 180.9 956.0 182.4C959.3 183.6 962.6 185.0 966.0 185.6C969.3 186.2 972.7 186.3 976.0 186.0C979.4 185.7 982.8 185.0 986.0 184.0C989.5 182.9 992.6 180.9 996.0 179.6C998.6 178.6 1001.3 177.2 1004.0 177.0C1006.0 176.9 1008.1 177.0 1010.0 177.6C1011.9 178.2 1013.6 179.6 1015.4 180.6M1015.4 180.6C1016.6 178.7 1018.0 177.0 1019.0 175.0C1020.5 171.9 1021.0 168.3 1022.0 165.0C1023.3 160.7 1024.7 156.3 1026.0 152.0C1027.3 147.7 1028.5 143.3 1030.0 139.0C1031.5 134.5 1033.3 130.0 1035.0 125.5C1036.6 121.4 1038.4 117.3 1040.0 113.2C1041.7 108.7 1043.1 104.1 1044.8 99.6C1046.6 94.8 1048.5 90.0 1050.4 85.2C1052.5 80.1 1054.3 74.9 1056.8 70.0C1058.7 66.2 1060.8 62.3 1063.2 58.8C1065.1 56.0 1067.3 53.3 1069.6 50.8C1071.6 48.7 1073.7 46.6 1076.0 44.8C1078.0 43.3 1080.1 41.7 1082.4 40.8C1084.2 40.1 1086.1 39.6 1088.0 39.4C1088.8 39.3 1089.7 39.2 1090.5 39.2C1092.4 39.3 1094.3 40.2 1096.0 41.0C1099.0 42.4 1101.5 44.8 1104.0 47.0C1106.9 49.5 1109.5 52.2 1112.0 55.0C1114.9 58.2 1117.3 61.7 1120.0 65.0C1123.3 69.0 1126.7 73.0 1130.0 77.0C1133.3 81.0 1136.7 85.0 1140.0 89.0C1143.3 93.0 1146.7 97.0 1150.0 101.0C1153.3 105.0 1156.7 109.0 1160.0 113.0C1163.3 117.0 1166.5 121.2 1170.0 125.0C1173.2 128.5 1176.3 132.2 1180.0 135.0C1183.1 137.3 1186.4 139.7 1190.0 141.0C1193.1 142.2 1196.6 142.8 1200.0 143.0C1203.3 143.2 1206.8 142.8 1210.0 142.0C1213.5 141.2 1216.7 139.5 1220.0 138.0C1223.4 136.5 1226.5 134.3 1230.0 133.0C1233.6 131.7 1237.6 131.3 1241.4 130.4"/>
<path d="M884.6 147.0C887.1 148.7 889.7 150.1 892.0 152.0C895.0 154.6 897.4 158.0 900.0 161.0C903.4 164.9 906.6 169.1 910.0 173.0C913.3 176.7 916.6 180.4 920.0 184.0C923.9 188.1 927.8 192.2 932.0 196.0C935.8 199.5 939.8 203.0 944.0 206.0C947.8 208.8 951.8 211.4 956.0 213.6C959.2 215.3 962.5 217.0 966.0 218.0C969.2 218.9 972.7 219.6 976.0 219.4C979.4 219.2 982.9 218.3 986.0 217.0C989.7 215.4 992.8 212.5 996.0 210.0C999.5 207.2 1002.7 204.1 1006.0 201.0C1009.2 198.0 1012.3 194.7 1015.4 191.6M1015.4 191.6C1016.4 194.7 1017.4 197.9 1018.5 201.0C1019.6 204.0 1020.9 207.0 1022.0 210.0C1023.9 215.3 1025.5 220.7 1027.3 226.0C1029.5 232.7 1031.7 239.4 1034.0 246.0C1036.2 252.3 1038.4 258.5 1040.7 264.7C1042.8 270.5 1045.0 276.3 1047.3 282.0C1049.4 287.4 1051.6 292.7 1054.0 298.0C1055.7 301.8 1057.4 305.6 1059.3 309.3C1061.3 313.2 1063.4 317.1 1066.0 320.7C1068.0 323.5 1070.1 326.4 1072.7 328.7C1074.7 330.5 1076.9 332.1 1079.3 333.3C1081.4 334.4 1083.7 335.2 1086.0 335.7C1087.5 336.0 1089.1 336.3 1090.7 336.3C1092.7 336.3 1094.8 335.9 1096.7 335.3C1099.0 334.6 1101.2 333.3 1103.3 332.0C1106.1 330.3 1108.8 328.2 1111.3 326.0C1114.2 323.5 1116.7 320.7 1119.3 318.0C1122.5 314.7 1125.8 311.5 1128.7 308.0C1132.1 304.0 1135.0 299.6 1138.0 295.3C1141.7 290.1 1145.2 284.7 1148.7 279.3C1152.3 273.6 1155.8 267.8 1159.3 262.0C1162.9 256.2 1166.4 250.5 1170.0 244.7C1173.6 238.9 1177.1 233.1 1180.7 227.3C1184.2 221.8 1187.9 216.5 1191.3 211.0C1194.3 206.1 1197.1 201.0 1200.0 196.0C1202.4 191.8 1204.7 187.5 1207.3 183.3C1210.7 177.8 1214.1 172.4 1218.0 167.3C1221.3 162.9 1224.6 158.3 1228.7 154.7C1231.2 152.5 1233.8 150.2 1236.7 148.7C1238.2 147.9 1239.8 147.4 1241.4 146.8"/>
<path d="M884.6 265.0C886.6 265.3 888.6 265.4 890.5 265.9C891.7 266.2 892.9 266.5 894.0 267.0C895.4 267.6 896.8 268.6 898.0 269.6C900.5 271.7 901.9 275.1 903.6 278.0C905.7 281.6 907.5 285.4 909.2 289.2C911.3 294.0 913.1 299.1 914.8 304.1C916.8 310.2 918.3 316.6 920.0 322.8C922.2 330.9 924.5 339.0 926.6 347.1C928.9 355.8 931.0 364.5 933.1 373.2C935.7 383.8 938.1 394.3 940.6 404.9C942.5 413.0 944.4 421.1 946.2 429.2C947.5 434.8 948.6 440.4 949.9 446.0C952.5 457.4 955.6 468.6 958.3 480.0C960.5 489.3 962.6 498.7 964.8 508.0C967.0 517.3 968.9 526.7 971.3 536.0C973.4 544.1 975.6 552.2 977.9 560.3C980.2 568.4 982.6 576.5 985.3 584.5C987.6 591.4 990.1 598.3 992.8 605.0C995.1 610.7 997.7 616.3 1000.3 621.9C1002.7 626.9 1004.6 632.2 1007.7 636.8C1009.8 640.0 1012.6 642.8 1015.0 645.8M1015.0 645.8C1021.1 645.2 1027.3 645.0 1033.3 644.0C1038.9 643.0 1044.4 641.3 1050.0 640.0C1054.4 639.0 1058.8 637.5 1063.3 637.0C1067.7 636.5 1072.2 636.6 1076.7 636.7C1081.3 636.8 1085.8 637.8 1090.4 637.7C1093.6 637.6 1096.9 637.5 1100.0 636.7C1102.9 636.0 1105.7 634.8 1108.3 633.3C1111.4 631.6 1114.2 629.2 1116.7 626.7C1120.7 622.9 1123.8 618.0 1126.7 613.3C1130.9 606.4 1133.6 598.5 1136.7 591.0C1140.4 581.8 1143.8 572.5 1146.7 563.0C1149.6 553.5 1151.6 543.7 1154.0 534.0C1157.2 521.3 1160.6 508.7 1163.7 496.0C1166.0 486.7 1168.2 477.4 1170.3 468.0C1172.6 458.1 1174.6 448.1 1176.8 438.1C1179.0 428.2 1181.1 418.2 1183.3 408.3C1185.8 397.1 1188.1 385.9 1190.8 374.7C1193.2 364.7 1195.5 354.7 1198.3 344.8C1200.6 336.6 1203.2 328.6 1205.7 320.5C1207.6 314.3 1209.6 308.2 1211.5 302.0C1213.2 296.7 1214.4 291.1 1216.5 286.0C1218.1 282.2 1219.6 278.2 1222.0 275.0C1224.0 272.4 1226.2 269.7 1229.0 268.0C1231.1 266.7 1233.6 266.0 1236.0 265.4C1237.8 265.0 1239.6 264.9 1241.4 264.6"/>
<path d="M884.6 264.8C885.7 264.9 886.9 264.9 888.0 265.2C889.0 265.4 890.1 265.7 891.0 266.2C892.3 267.0 893.3 268.4 894.3 269.6C896.5 272.1 898.2 275.1 899.9 278.0C902.0 281.6 903.8 285.4 905.5 289.2C907.6 294.0 909.4 299.1 911.1 304.1C913.2 310.3 914.9 316.5 916.7 322.8C919.0 330.9 921.1 339.0 923.2 347.1C925.4 355.8 927.6 364.5 929.7 373.2C932.3 383.8 934.7 394.3 937.2 404.9C939.1 413.0 941.0 421.1 942.8 429.2C944.1 434.8 945.2 440.4 946.5 446.0C949.1 457.4 952.4 468.6 955.1 480.0C957.3 489.3 959.3 498.7 961.4 508.0C963.6 517.3 965.7 526.7 968.0 536.0C970.1 544.1 972.2 552.2 974.5 560.3C976.8 568.4 979.1 576.5 981.6 584.5C984.0 592.0 986.4 599.5 989.1 606.9C991.4 613.2 993.7 619.5 996.5 625.6C998.8 630.7 1001.0 635.9 1004.0 640.5C1005.7 643.1 1007.5 645.8 1009.6 648.0C1011.2 649.7 1013.2 651.1 1015.0 652.7M1015.0 652.7C1020.0 653.5 1025.1 653.8 1030.0 655.0C1034.5 656.1 1039.0 657.6 1043.3 659.3C1047.9 661.2 1052.2 663.8 1056.7 666.0C1061.1 668.2 1065.5 670.7 1070.0 672.7C1073.3 674.2 1076.6 675.8 1080.0 676.7C1083.4 677.6 1087.0 678.6 1090.4 678.3C1093.1 678.1 1095.8 677.1 1098.3 676.0C1101.4 674.6 1104.2 672.3 1106.7 670.0C1110.8 666.3 1113.7 661.4 1116.7 656.7C1120.7 650.4 1123.7 643.5 1126.7 636.7C1130.5 628.0 1133.5 619.0 1136.7 610.0C1140.2 600.1 1143.7 590.1 1146.7 580.0C1151.0 565.5 1153.8 550.7 1157.3 536.0C1160.5 522.7 1163.8 509.3 1166.9 496.0C1169.1 486.7 1171.3 477.3 1173.4 468.0C1175.7 458.0 1177.8 448.1 1180.0 438.1C1182.2 428.2 1184.3 418.2 1186.5 408.3C1189.0 397.1 1191.4 385.9 1194.0 374.7C1196.4 364.7 1198.5 354.6 1201.4 344.8C1203.8 336.6 1206.8 328.6 1209.5 320.5C1211.5 314.3 1213.5 308.2 1215.5 302.0C1217.0 297.3 1218.4 292.6 1220.0 288.0C1221.4 284.0 1222.3 279.6 1224.5 276.0C1226.1 273.4 1228.1 270.8 1230.5 269.0C1232.3 267.7 1234.4 266.7 1236.5 266.0C1238.1 265.5 1239.8 265.3 1241.4 265.0"/>
<path d="M1111.5 35.5C1114.3 38.7 1117.2 41.8 1120.0 45.0C1123.4 48.9 1126.7 53.0 1130.0 57.0C1133.3 61.0 1136.7 64.9 1140.0 69.0C1143.4 73.3 1146.7 77.7 1150.0 82.0C1153.3 86.3 1156.5 90.8 1160.0 95.0C1163.2 98.8 1166.7 102.3 1170.0 106.0C1173.3 109.7 1176.6 113.4 1180.0 117.0C1183.3 120.4 1186.4 124.0 1190.0 127.0C1193.1 129.6 1196.3 132.5 1200.0 134.0C1202.5 135.0 1205.3 135.7 1208.0 136.0C1210.6 136.3 1213.4 136.3 1216.0 136.0C1218.7 135.7 1221.4 134.7 1224.0 134.0C1226.7 133.2 1229.3 132.1 1232.0 131.5C1235.1 130.8 1238.3 130.5 1241.4 130.0"/>
<path d="M1090.7 280.7C1093.1 280.5 1095.6 280.5 1098.0 280.0C1100.7 279.4 1103.4 278.4 1106.0 277.3C1108.7 276.2 1111.4 274.8 1114.0 273.3C1117.2 271.4 1120.4 269.3 1123.3 267.0C1126.6 264.4 1129.6 261.4 1132.7 258.5C1136.3 255.2 1139.8 251.8 1143.3 248.3C1147.9 243.7 1152.4 238.9 1156.7 234.0C1161.3 228.7 1165.7 223.1 1170.0 217.4C1174.6 211.3 1178.9 204.8 1183.3 198.5C1187.8 192.0 1192.0 185.3 1196.7 179.0C1200.9 173.3 1205.0 167.5 1210.0 162.5C1214.1 158.5 1218.4 154.3 1223.3 151.5C1226.3 149.8 1229.4 148.2 1232.7 147.3C1235.5 146.6 1238.5 146.6 1241.4 146.2"/>
<path d="M1241.4 130.0C1244.3 130.5 1247.2 130.8 1250.0 131.6C1253.5 132.6 1256.7 134.5 1260.0 136.0C1263.4 137.6 1266.6 139.5 1270.0 141.0C1273.3 142.5 1276.6 144.0 1280.0 145.0C1283.2 146.0 1286.6 146.7 1290.0 147.0C1293.3 147.3 1296.7 147.3 1300.0 147.0C1303.4 146.7 1306.7 145.9 1310.0 145.4C1313.3 144.9 1316.7 144.4 1320.0 144.0C1322.7 143.6 1325.3 143.2 1328.0 143.0C1331.3 142.7 1334.7 142.4 1338.0 142.8C1340.7 143.1 1343.3 144.0 1346.0 144.5C1348.3 145.0 1350.6 145.6 1353.0 145.8C1355.3 146.0 1357.8 146.1 1360.0 145.5C1361.8 145.0 1363.5 144.0 1365.0 143.0C1366.5 142.0 1367.7 140.6 1369.0 139.5C1370.0 138.7 1371.2 138.0 1372.0 137.0C1373.4 135.4 1373.7 133.0 1374.5 131.0C1375.8 127.7 1376.8 124.3 1378.0 121.0C1379.3 117.3 1380.7 113.7 1382.0 110.0C1383.3 106.4 1384.7 102.9 1386.0 99.3C1387.8 94.6 1389.5 90.0 1391.3 85.3C1393.3 80.2 1395.4 75.1 1397.3 70.0C1399.4 64.5 1401.3 58.9 1403.3 53.3C1405.4 47.4 1407.4 41.4 1409.5 35.5"/>
<path d="M1241.4 130.4C1244.3 131.3 1247.3 131.8 1250.0 133.0C1253.6 134.5 1256.7 137.0 1260.0 139.0C1263.3 141.0 1266.6 143.1 1270.0 145.0C1273.3 146.8 1276.5 148.7 1280.0 150.0C1283.2 151.2 1286.6 152.2 1290.0 152.6C1293.3 153.0 1296.7 153.0 1300.0 152.6C1303.4 152.2 1306.6 150.7 1310.0 150.0C1313.3 149.3 1316.7 149.0 1320.0 148.5C1322.7 148.1 1325.3 147.9 1328.0 147.5C1331.4 147.0 1334.6 145.7 1338.0 145.5C1340.6 145.4 1343.4 145.6 1346.0 146.0C1348.4 146.4 1350.7 147.1 1353.0 147.8C1355.4 148.6 1357.7 149.6 1360.0 150.5C1361.7 151.2 1363.3 151.9 1365.0 152.5C1366.3 153.0 1367.6 153.7 1369.0 154.0C1370.0 154.2 1371.0 154.5 1372.0 154.5C1373.0 154.5 1374.1 154.4 1375.0 154.0C1376.2 153.4 1377.1 152.1 1378.0 151.0C1379.6 149.2 1380.8 147.1 1382.0 145.0C1383.6 142.2 1384.8 139.0 1386.0 136.0C1387.5 132.4 1388.6 128.7 1390.0 125.0C1391.6 120.7 1393.3 116.3 1395.0 112.0C1396.7 107.8 1398.3 103.5 1400.0 99.3C1401.9 94.6 1404.1 90.0 1406.0 85.3C1408.1 80.2 1410.1 75.1 1412.0 70.0C1414.1 64.5 1415.9 58.8 1418.0 53.3C1420.3 47.3 1422.8 41.4 1425.2 35.5"/>
<path d="M1241.4 146.4C1244.3 146.9 1247.3 147.1 1250.0 148.0C1253.6 149.3 1256.7 151.9 1260.0 154.0C1263.4 156.2 1266.6 158.8 1270.0 161.0C1273.3 163.1 1276.6 165.1 1280.0 167.0C1283.3 168.8 1286.7 170.3 1290.0 172.0C1293.3 173.7 1296.7 175.3 1300.0 177.0C1303.3 178.7 1306.6 180.6 1310.0 182.0C1313.2 183.3 1316.6 184.5 1320.0 185.2C1322.6 185.7 1325.3 185.9 1328.0 186.0C1330.7 186.1 1333.4 186.3 1336.0 185.8C1338.4 185.3 1340.7 184.0 1343.0 183.0C1345.4 181.9 1347.6 180.5 1350.0 179.5C1352.3 178.5 1354.6 177.5 1357.0 177.0C1358.6 176.7 1360.3 176.4 1362.0 176.5C1363.7 176.6 1365.5 176.9 1367.0 177.5C1368.4 178.1 1369.9 178.9 1371.0 180.0C1371.8 180.8 1372.4 182.0 1373.0 183.0C1373.8 184.3 1374.5 185.6 1375.3 186.9C1377.0 189.7 1379.0 192.3 1380.8 195.0C1382.8 197.9 1384.5 201.0 1386.7 203.8C1388.5 206.1 1390.3 208.4 1392.5 210.4C1394.1 211.9 1395.8 213.5 1397.7 214.4C1399.7 215.3 1402.1 216.0 1404.3 215.9C1406.5 215.8 1409.0 215.1 1410.9 214.0C1412.9 212.8 1414.4 210.7 1416.0 208.9C1418.2 206.4 1420.0 203.6 1421.9 200.9C1423.9 198.0 1425.7 195.0 1427.7 192.1C1429.9 188.9 1432.0 185.6 1434.3 182.5C1436.2 180.0 1438.1 177.5 1440.2 175.2C1441.8 173.4 1443.6 171.7 1445.3 170.0C1445.7 169.6 1446.1 169.2 1446.5 168.8"/>
<path d="M1241.4 146.8C1244.3 148.9 1247.4 150.6 1250.0 153.0C1254.0 156.6 1256.7 161.7 1260.0 166.0C1263.3 170.3 1266.5 174.8 1270.0 179.0C1273.2 182.8 1276.6 186.4 1280.0 190.0C1283.3 193.4 1286.5 196.9 1290.0 200.0C1293.2 202.8 1296.5 205.6 1300.0 208.0C1303.2 210.2 1306.5 212.3 1310.0 214.0C1313.2 215.6 1316.6 217.1 1320.0 218.0C1323.2 218.8 1326.7 219.4 1330.0 219.4C1333.3 219.4 1336.9 219.1 1340.0 218.0C1343.6 216.8 1346.9 214.3 1350.0 212.0C1353.6 209.4 1356.9 206.2 1360.0 203.0C1362.8 200.1 1365.3 197.0 1368.0 194.0C1369.3 192.5 1370.7 191.0 1372.0 189.5C1372.9 188.5 1373.7 187.4 1374.5 186.3M1374.5 186.3C1375.3 185.9 1376.1 185.3 1377.0 185.0C1377.9 184.7 1379.0 184.8 1380.0 184.8C1382.0 184.8 1384.1 185.4 1386.0 186.0C1388.1 186.6 1389.9 188.0 1392.0 188.5C1393.9 189.0 1396.0 189.1 1398.0 189.0C1400.0 188.9 1402.1 188.6 1404.0 188.0C1406.1 187.3 1408.2 186.2 1410.0 185.0C1412.3 183.5 1414.0 181.2 1416.0 179.3C1418.0 177.4 1419.9 175.6 1422.0 173.8C1423.9 172.1 1425.9 170.4 1428.0 169.0C1429.6 168.0 1431.2 167.0 1433.0 166.3C1434.6 165.7 1436.3 165.2 1438.0 165.0C1439.6 164.8 1441.5 164.8 1443.0 165.3C1444.1 165.7 1445.0 166.4 1446.0 167.0"/>
<path d="M1241.4 264.8C1243.6 265.5 1246.1 265.9 1248.0 267.0C1250.4 268.4 1252.3 270.8 1254.0 273.0C1256.6 276.2 1258.2 280.2 1260.0 284.0C1262.4 289.1 1264.2 294.6 1266.1 300.0C1267.8 304.9 1269.3 309.9 1270.8 314.9C1273.1 322.3 1275.3 329.8 1277.3 337.3C1280.0 347.2 1282.4 357.2 1284.8 367.2C1287.4 377.7 1289.8 388.3 1292.3 398.9C1294.8 409.5 1297.2 420.1 1299.7 430.7C1302.2 441.3 1304.8 451.8 1307.2 462.4C1309.5 472.3 1311.4 482.4 1313.7 492.3C1317.3 508.3 1321.1 524.2 1325.3 540.0C1326.8 545.8 1328.5 551.5 1330.0 557.3C1331.8 564.0 1333.5 570.7 1335.3 577.3C1337.0 583.6 1338.8 589.8 1340.7 596.0C1342.4 601.4 1344.1 606.7 1346.0 612.0C1347.6 616.5 1349.4 620.9 1351.3 625.3C1353.0 629.1 1354.7 633.0 1356.7 636.7C1358.3 639.6 1359.9 642.7 1362.0 645.3C1363.6 647.2 1365.3 649.2 1367.3 650.7C1368.7 651.8 1370.3 652.9 1372.0 653.6C1373.3 654.1 1374.6 654.5 1376.0 654.7C1377.7 654.9 1379.6 654.7 1381.3 654.4C1382.7 654.2 1383.9 653.6 1385.3 653.3C1387.1 652.9 1389.0 653.1 1390.7 652.7C1392.5 652.3 1394.3 651.4 1396.0 650.7C1398.3 649.7 1400.5 648.5 1402.7 647.3C1404.9 646.1 1407.1 644.6 1409.3 643.3C1411.5 642.0 1413.8 640.6 1416.0 639.3C1418.2 638.0 1420.4 636.5 1422.7 635.3C1424.9 634.1 1427.1 633.0 1429.3 632.0C1431.5 631.0 1433.8 630.2 1436.0 629.3C1437.8 628.6 1439.5 627.8 1441.3 627.3C1442.8 626.9 1444.4 626.7 1446.0 626.4"/>
<path d="M1241.4 264.6C1243.9 265.1 1246.8 265.0 1249.0 266.0C1251.8 267.3 1254.0 270.0 1256.0 272.4C1258.6 275.5 1260.1 279.4 1262.0 283.0C1264.8 288.5 1267.4 294.2 1269.5 300.0C1271.3 304.9 1272.5 309.9 1274.0 314.9C1276.2 322.4 1278.5 329.8 1280.5 337.3C1283.2 347.2 1285.6 357.2 1288.0 367.2C1290.6 377.7 1292.9 388.3 1295.4 398.9C1297.9 409.5 1300.4 420.1 1302.9 430.7C1305.4 441.3 1308.0 451.8 1310.4 462.4C1312.7 472.4 1314.8 482.3 1317.1 492.3C1320.8 508.2 1324.6 524.2 1328.7 540.0C1330.2 545.8 1331.8 551.5 1333.3 557.3C1335.1 564.0 1336.9 570.6 1338.7 577.3C1340.4 583.5 1342.1 589.8 1344.0 596.0C1345.7 601.4 1347.3 606.7 1349.3 612.0C1351.0 616.5 1352.7 621.0 1354.7 625.3C1356.3 628.7 1357.9 632.2 1360.0 635.3C1361.6 637.7 1363.3 640.0 1365.3 642.0C1367.0 643.7 1368.8 645.3 1370.7 646.7C1372.4 647.9 1374.1 649.1 1376.0 650.0C1377.7 650.8 1379.5 651.6 1381.3 652.0C1382.4 652.2 1383.6 652.6 1384.7 652.4C1385.9 652.2 1386.9 651.3 1388.0 650.7C1389.9 649.6 1391.6 648.1 1393.3 646.7C1395.6 644.9 1397.8 643.2 1400.0 641.3C1402.3 639.4 1404.3 637.1 1406.7 635.3C1408.8 633.6 1411.0 632.1 1413.3 630.7C1415.4 629.4 1417.7 628.3 1420.0 627.3C1421.7 626.6 1423.5 625.7 1425.3 625.3C1427.9 624.7 1430.6 624.8 1433.3 624.7C1436.0 624.6 1438.7 624.3 1441.3 624.7C1442.9 625.0 1444.4 625.6 1446.0 626.0"/>
<path d="M1031.3 990.2C1033.3 986.3 1035.1 982.3 1037.3 978.5C1039.4 974.9 1041.6 971.3 1044.3 968.1C1046.4 965.6 1048.8 963.4 1051.2 961.2C1053.4 959.1 1055.6 956.9 1058.1 955.1C1060.3 953.5 1062.7 952.1 1065.1 950.8C1067.4 949.5 1069.6 948.2 1072.0 947.3C1074.8 946.2 1077.7 945.4 1080.7 944.9C1083.9 944.4 1087.2 944.5 1090.5 944.5C1093.0 944.5 1095.6 944.4 1098.0 944.9C1099.8 945.2 1101.6 945.8 1103.2 946.5C1105.4 947.5 1107.4 948.9 1109.3 950.4C1111.5 952.1 1113.4 954.0 1115.3 956.0C1117.4 958.2 1119.5 960.5 1121.4 962.9C1123.6 965.7 1125.6 968.6 1127.5 971.6C1129.4 974.7 1131.2 977.8 1132.7 981.1C1134.1 984.1 1135.1 987.2 1136.3 990.2"/>
<path d="M1058.1 990.2C1060.4 988.6 1062.7 986.9 1065.1 985.5C1067.3 984.2 1069.6 982.9 1072.0 982.0C1074.5 981.0 1077.2 980.4 1079.8 979.8C1081.8 979.3 1083.9 978.9 1085.9 978.7C1087.4 978.5 1089.0 978.4 1090.5 978.4C1091.8 978.4 1093.2 978.5 1094.5 978.7C1096.0 978.9 1097.5 979.3 1098.9 979.8C1100.8 980.5 1102.5 981.7 1104.1 982.9C1105.9 984.2 1107.6 985.7 1109.3 987.2C1110.4 988.2 1111.4 989.2 1112.5 990.2"/>
<path d="M1386.7 990.2C1390.0 985.1 1393.2 980.0 1396.7 975.0C1399.9 970.5 1403.0 965.8 1406.7 961.7C1410.7 957.4 1415.0 953.1 1420.0 950.0C1424.1 947.5 1428.7 945.4 1433.3 944.0C1437.6 942.7 1442.2 942.5 1446.7 941.7"/>
<path d="M1388.0 990.2C1391.3 985.1 1394.5 980.0 1398.0 975.0C1401.2 970.5 1404.2 965.7 1408.0 961.7C1411.9 957.5 1416.2 953.4 1421.0 950.4C1425.0 947.9 1429.5 945.7 1434.0 944.3C1438.1 943.0 1442.5 942.8 1446.7 942.0"/>
</g>
<g font-family="'Liberation Sans', Arial, Helvetica, sans-serif" font-size="30.6" fill="#000" stroke="#000" stroke-width="0.95" stroke-linejoin="round">
<text transform="translate(61.3,45.1) scale(0.94,1)" text-anchor="end">2</text>
<text transform="translate(61.3,181.1) scale(0.94,1)" text-anchor="end">1</text>
<text transform="translate(61.3,318.1) scale(0.94,1)" text-anchor="end">0</text>
<text transform="translate(61.3,455.1) scale(0.94,1)" text-anchor="end">-1</text>
<text transform="translate(61.3,591.1) scale(0.94,1)" text-anchor="end">-2</text>
<text transform="translate(61.3,728.1) scale(0.94,1)" text-anchor="end">-3</text>
<text transform="translate(61.3,865.1) scale(0.94,1)" text-anchor="end">-4</text>
<text transform="translate(61.3,1001.1) scale(0.94,1)" text-anchor="end">-5</text>
<text transform="translate(78.5,1030.7) scale(0.94,1)" text-anchor="middle">Gamma</text>
<text transform="translate(291.5,1030.7) scale(0.94,1)" text-anchor="middle">X</text>
<text transform="translate(398.5,1030.7) scale(0.94,1)" text-anchor="middle">W</text>
<text transform="translate(473.5,1030.7) scale(0.94,1)" text-anchor="middle">K</text>
<text transform="translate(700.5,1030.7) scale(0.94,1)" text-anchor="middle">Gamma</text>
<text transform="translate(884.5,1030.7) scale(0.94,1)" text-anchor="middle">L</text>
<text transform="translate(1015.5,1030.7) scale(0.94,1)" text-anchor="middle">U</text>
<text transform="translate(1090.5,1030.7) scale(0.94,1)" text-anchor="middle">W</text>
<text transform="translate(1241.5,1030.7) scale(0.94,1)" text-anchor="middle">L</text>
<text transform="translate(1355.9,1030.7) scale(0.94,1)" text-anchor="middle">K</text>
<text transform="translate(1393.0,1030.7) scale(0.94,1)" text-anchor="middle">U</text>
<text transform="translate(1447.5,1030.7) scale(0.94,1)" text-anchor="middle">X</text>
</g>
</svg>
</body></html>
